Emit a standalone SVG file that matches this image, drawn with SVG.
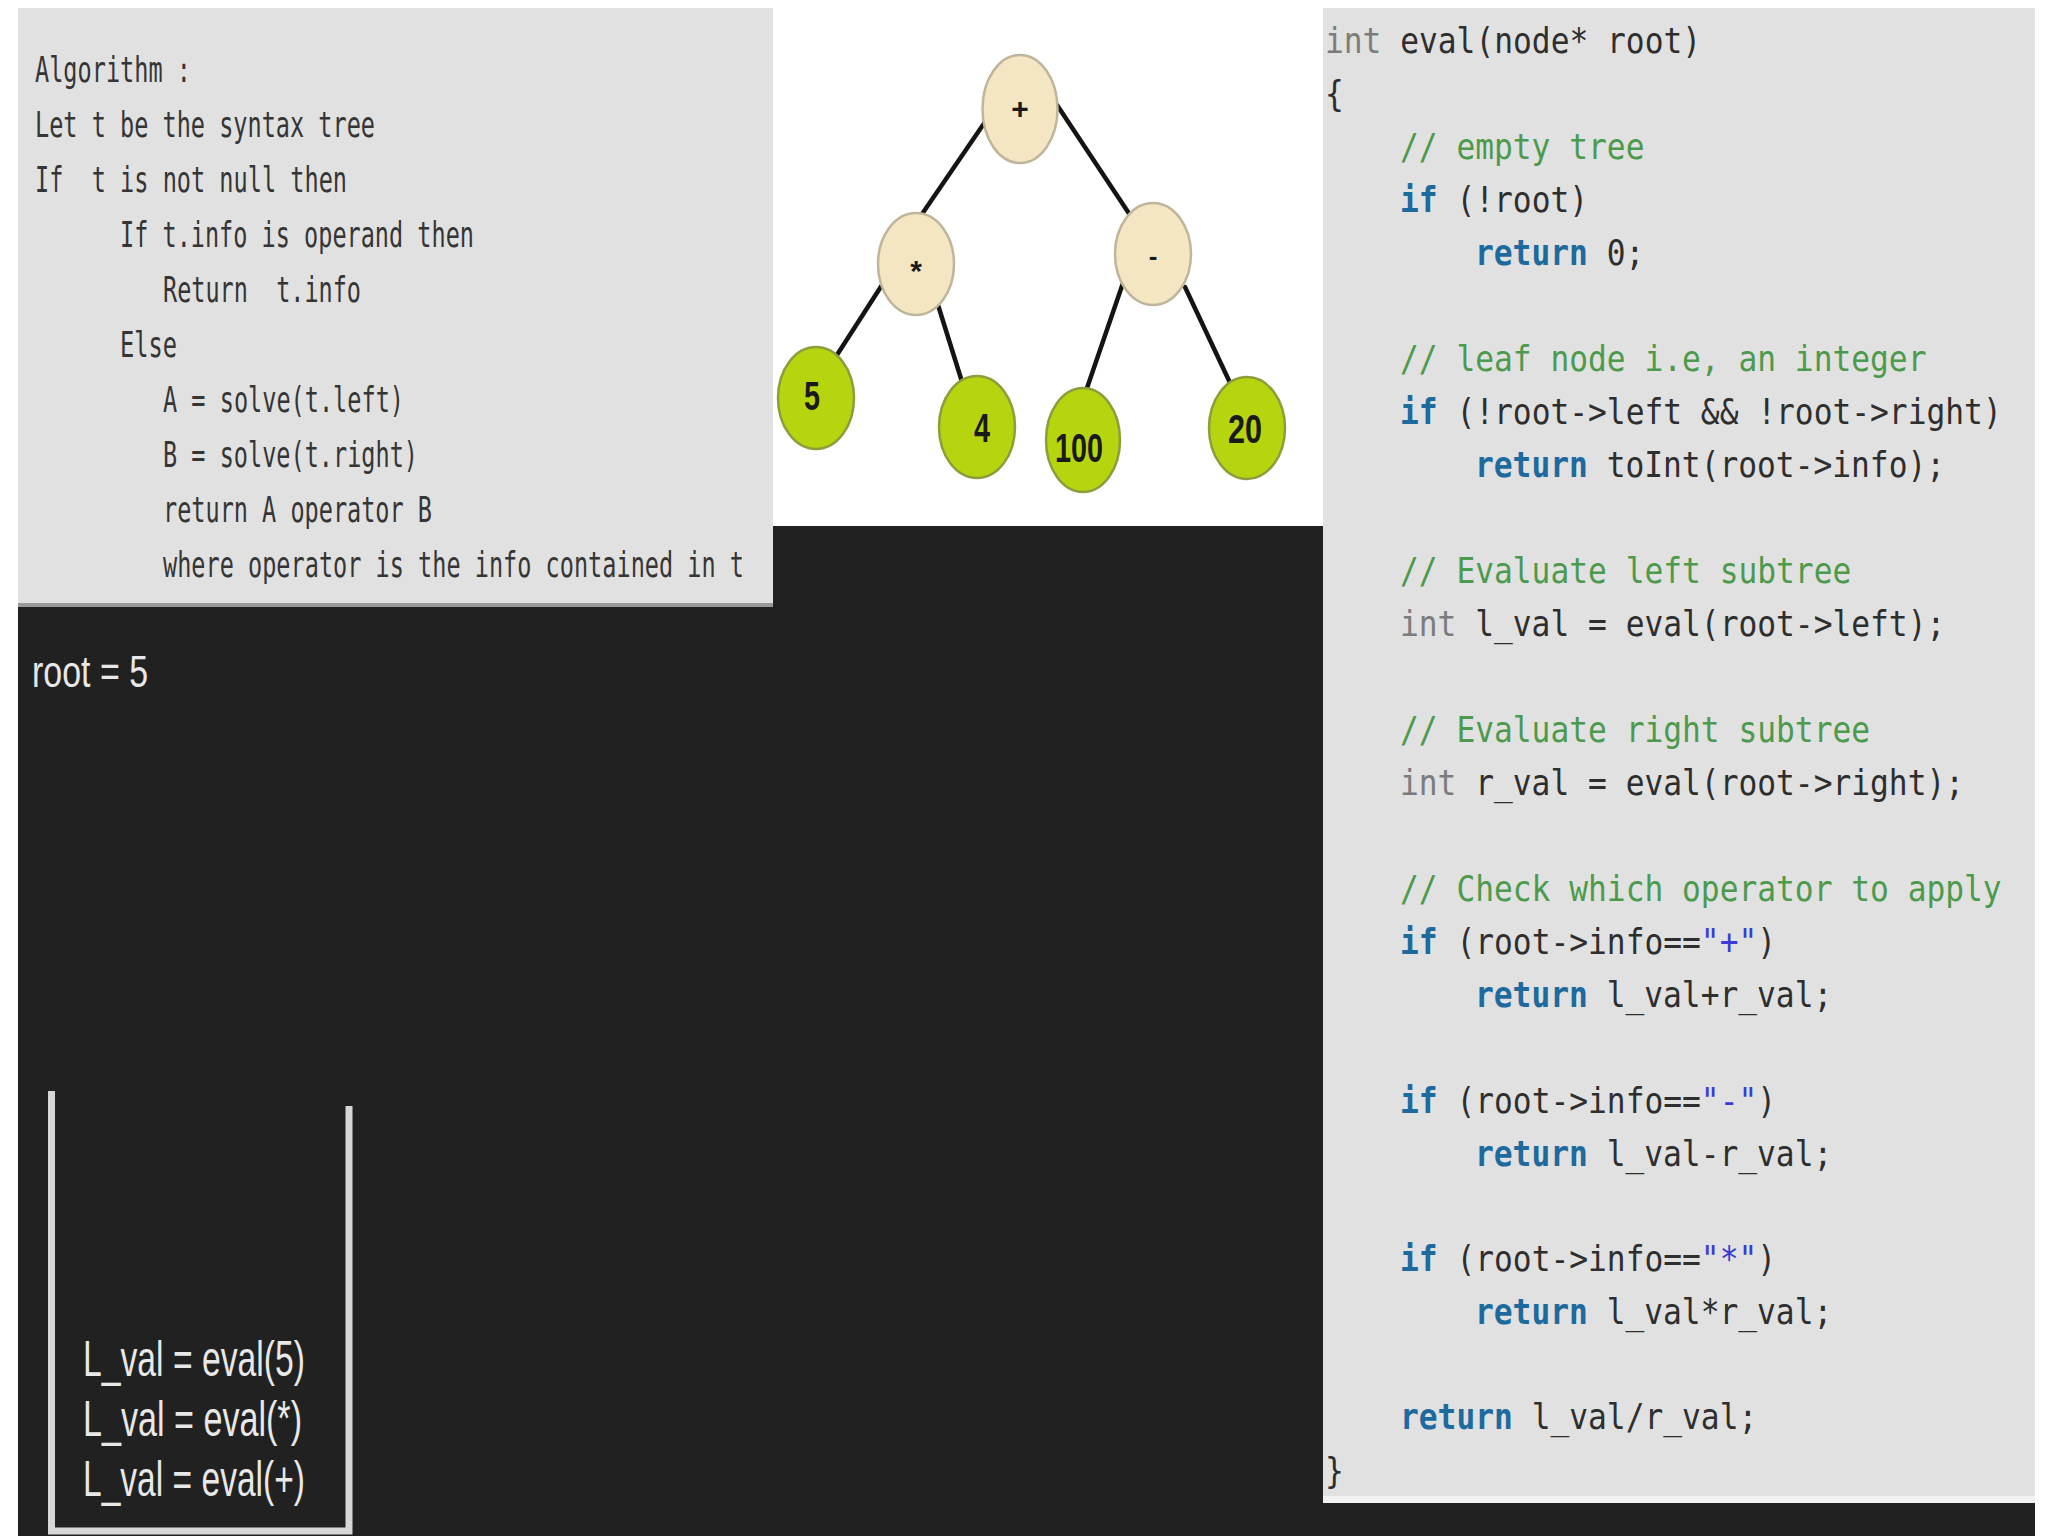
<svg xmlns="http://www.w3.org/2000/svg" width="2048" height="1536" viewBox="0 0 2048 1536">
<style>
.alg{font-family:"DejaVu Sans Mono","Liberation Mono",monospace;font-size:36px;fill:#353535;white-space:pre}
.code{font-family:"DejaVu Sans Mono","Liberation Mono",monospace;font-size:35px;fill:#2e2e2e;white-space:pre}
.kw{fill:#1d6a9e;font-weight:bold}
.ty{fill:#7c7c7c}
.cm{fill:#4c9a4c}
.st{fill:#3a3ad6}
.op{fill:#f4e6c3;stroke:#bfb59b;stroke-width:2.5}
.leaf{fill:#b7d50f;stroke:#8e9c3c;stroke-width:2.5}
.lbl{font-family:"Liberation Sans",Arial,sans-serif;font-weight:bold;fill:#1a1a1a;text-anchor:middle}
.wt{font-family:"Liberation Sans",Arial,sans-serif;fill:#e8e8e8;white-space:pre}
.edge{stroke:#141414;stroke-width:4.5;stroke-linecap:round}
.bar{stroke:#d6d6d6;stroke-width:7;fill:none}
</style>
<rect x="0" y="0" width="2048" height="1536" fill="#ffffff"/>
<rect x="18" y="8" width="2017" height="1528" fill="#212121"/>

<g id="algorithm-panel">
<rect x="18" y="8" width="755" height="599" fill="#e1e1e1"/>
<rect x="18" y="603" width="755" height="4" fill="#9a9a9a"/>
<text class="alg" x="35" y="82" textLength="156" lengthAdjust="spacingAndGlyphs">Algorithm :</text>
<text class="alg" x="35" y="137" textLength="340" lengthAdjust="spacingAndGlyphs">Let t be the syntax tree</text>
<text class="alg" x="35" y="192" textLength="312" lengthAdjust="spacingAndGlyphs">If  t is not null then</text>
<text class="alg" x="120" y="247" textLength="354" lengthAdjust="spacingAndGlyphs">If t.info is operand then</text>
<text class="alg" x="163" y="302" textLength="198" lengthAdjust="spacingAndGlyphs">Return  t.info</text>
<text class="alg" x="120" y="357" textLength="57" lengthAdjust="spacingAndGlyphs">Else</text>
<text class="alg" x="163" y="412" textLength="241" lengthAdjust="spacingAndGlyphs">A = solve(t.left)</text>
<text class="alg" x="163" y="467" textLength="255" lengthAdjust="spacingAndGlyphs">B = solve(t.right)</text>
<text class="alg" x="163" y="522" textLength="269" lengthAdjust="spacingAndGlyphs">return A operator B</text>
<text class="alg" x="163" y="577" textLength="581" lengthAdjust="spacingAndGlyphs">where operator is the info contained in t</text>
</g>

<g id="tree-panel">
<rect x="773" y="8" width="550" height="518" fill="#ffffff"/>
</g>

<g id="connectors">
<line class="edge" x1="985" y1="122" x2="920" y2="217"/>
<line class="edge" x1="1057" y1="105" x2="1132" y2="218"/>
<line class="edge" x1="882" y1="285" x2="835" y2="358"/>
<line class="edge" x1="938" y1="305" x2="963" y2="385"/>
<line class="edge" x1="1123" y1="283" x2="1087" y2="388"/>
<line class="edge" x1="1185" y1="287" x2="1232" y2="387"/>
</g>

<g id="node-plus">
<ellipse class="op" cx="1020" cy="109" rx="37.5" ry="54"/>
<text class="lbl" x="1020" y="119" font-size="30">+</text>
</g>
<g id="node-mul">
<ellipse class="op" cx="916" cy="264" rx="38" ry="51"/>
<text class="lbl" x="916" y="281" font-size="30">*</text>
</g>
<g id="node-minus">
<ellipse class="op" cx="1153" cy="254" rx="38" ry="51"/>
<text class="lbl" x="1153" y="265" font-size="26">-</text>
</g>
<g id="node-5">
<ellipse class="leaf" cx="816" cy="398" rx="38" ry="51"/>
<text class="lbl" x="812" y="410" font-size="40" textLength="16" lengthAdjust="spacingAndGlyphs">5</text>
</g>
<g id="node-4">
<ellipse class="leaf" cx="977" cy="427" rx="38" ry="51"/>
<text class="lbl" x="982" y="442" font-size="40" textLength="16" lengthAdjust="spacingAndGlyphs">4</text>
</g>
<g id="node-100">
<ellipse class="leaf" cx="1083" cy="440" rx="37" ry="52"/>
<text class="lbl" x="1079" y="462" font-size="40" textLength="48" lengthAdjust="spacingAndGlyphs">100</text>
</g>
<g id="node-20">
<ellipse class="leaf" cx="1247" cy="428" rx="38" ry="51"/>
<text class="lbl" x="1245" y="443" font-size="40" textLength="34" lengthAdjust="spacingAndGlyphs">20</text>
</g>

<g id="code-panel">
<rect x="1323" y="8" width="712" height="1488" fill="#e1e1e1"/>
<rect x="1323" y="1496" width="712" height="7" fill="#f2f2f2"/>
<g transform="translate(1325,0) scale(0.8929,1)">
<text class="code" x="0" y="53"><tspan class="ty">int</tspan> eval(node* root)</text>
<text class="code" x="0" y="106">{</text>
<text class="code" x="84" y="159"><tspan class="cm">// empty tree</tspan></text>
<text class="code" x="84" y="212"><tspan class="kw">if</tspan> (!root)</text>
<text class="code" x="168" y="265"><tspan class="kw">return</tspan> 0;</text>
<text class="code" x="84" y="371"><tspan class="cm">// leaf node i.e, an integer</tspan></text>
<text class="code" x="84" y="424"><tspan class="kw">if</tspan> (!root-&gt;left &amp;&amp; !root-&gt;right)</text>
<text class="code" x="168" y="477"><tspan class="kw">return</tspan> toInt(root-&gt;info);</text>
<text class="code" x="84" y="583"><tspan class="cm">// Evaluate left subtree</tspan></text>
<text class="code" x="84" y="636"><tspan class="ty">int</tspan> l_val = eval(root-&gt;left);</text>
<text class="code" x="84" y="742"><tspan class="cm">// Evaluate right subtree</tspan></text>
<text class="code" x="84" y="795"><tspan class="ty">int</tspan> r_val = eval(root-&gt;right);</text>
<text class="code" x="84" y="901"><tspan class="cm">// Check which operator to apply</tspan></text>
<text class="code" x="84" y="954"><tspan class="kw">if</tspan> (root-&gt;info==<tspan class="st">"+"</tspan>)</text>
<text class="code" x="168" y="1007"><tspan class="kw">return</tspan> l_val+r_val;</text>
<text class="code" x="84" y="1113"><tspan class="kw">if</tspan> (root-&gt;info==<tspan class="st">"-"</tspan>)</text>
<text class="code" x="168" y="1166"><tspan class="kw">return</tspan> l_val-r_val;</text>
<text class="code" x="84" y="1271"><tspan class="kw">if</tspan> (root-&gt;info==<tspan class="st">"*"</tspan>)</text>
<text class="code" x="168" y="1324"><tspan class="kw">return</tspan> l_val*r_val;</text>
<text class="code" x="84" y="1429"><tspan class="kw">return</tspan> l_val/r_val;</text>
<text class="code" x="0" y="1483">}</text>
</g>
</g>

<g id="root-label">
<text class="wt" x="32" y="687" font-size="44" textLength="116" lengthAdjust="spacingAndGlyphs">root = 5</text>
</g>

<g id="call-stack">
<path class="bar" d="M51.5 1091 V1531 H349 V1106"/>
<text class="wt" x="83" y="1376" font-size="50" textLength="222" lengthAdjust="spacingAndGlyphs">L_val = eval(5)</text>
<text class="wt" x="83" y="1436" font-size="50" textLength="219" lengthAdjust="spacingAndGlyphs">L_val = eval(*)</text>
<text class="wt" x="83" y="1496" font-size="50" textLength="222" lengthAdjust="spacingAndGlyphs">L_val = eval(+)</text>
</g>
</svg>
